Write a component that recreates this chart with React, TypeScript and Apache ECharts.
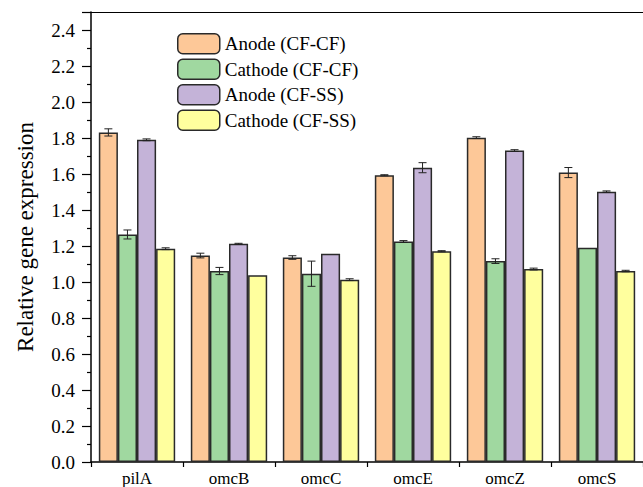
import React, { useEffect, useRef } from "react";
import * as echarts from "echarts";

const categories = ["pilA", "omcB", "omcC", "omcE", "omcZ", "omcS"];
const seriesNames = ["Anode (CF-CF)", "Cathode (CF-CF)", "Anode (CF-SS)", "Cathode (CF-SS)"];
const anodeCFCF = [1.831, 1.147, 1.136, 1.593, 1.802, 1.608];
const cathodeCFCF = [1.264, 1.061, 1.046, 1.225, 1.116, 1.19];
const anodeCFSS = [1.79, 1.212, 1.157, 1.635, 1.73, 1.502];
const cathodeCFSS = [1.185, 1.038, 1.013, 1.171, 1.072, 1.061];
const errAnodeCFCF = [0.02, 0.013, 0.01, 0.003, 0.005, 0.028];
const errCathodeCFCF = [0.025, 0.02, 0.07, 0.005, 0.013, 0];
const errAnodeCFSS = [0.005, 0.003, 0, 0.028, 0.005, 0.004];
const errCathodeCFSS = [0.005, 0, 0.005, 0.003, 0.005, 0.004];
const colors = ["#FDC898", "#A0D8A0", "#C4B3D8", "#FFFF9E"];

const FONT = "Liberation Serif";
const CAT_GAP = 0.17;

export default function App() {
  const ref = useRef<HTMLDivElement>(null);
  useEffect(() => {
    if (!ref.current) return;
    const chart = echarts.init(ref.current, null, { renderer: "svg" });
    const values = [anodeCFCF, cathodeCFCF, anodeCFSS, cathodeCFSS];
    const errs = [errAnodeCFCF, errCathodeCFCF, errAnodeCFSS, errCathodeCFSS];
    const errData: number[][] = [];
    values.forEach((arr, s) => {
      arr.forEach((v, i) => {
        errData.push([i, s, v, errs[s][i]]);
      });
    });
    const barSeries = values.map((arr, s) => ({
      name: seriesNames[s],
      type: "bar",
      data: arr,
      barGap: "0%",
      barCategoryGap: CAT_GAP * 100 + "%",
      itemStyle: { color: colors[s], borderColor: "#2a2a2a", borderWidth: 1.5 },
    }));
    chart.setOption({
      animation: false,
      textStyle: { fontFamily: FONT, color: "#000" },
      legend: {
        data: seriesNames,
        orient: "vertical",
        left: 177,
        top: 33,
        padding: 0,
        itemWidth: 42,
        itemHeight: 20,
        itemGap: 4,
        itemStyle: { borderColor: "#2a2a2a", borderWidth: 1.5 },
        textStyle: { fontFamily: FONT, fontSize: 19, color: "#000" },
      },
      grid: { left: 91, top: 12, right: -7, bottom: 25, containLabel: false },
      xAxis: [
        {
          type: "category",
          data: categories,
          axisLine: { lineStyle: { color: "#000", width: 1.5 } },
          axisTick: { show: true, length: 5, lineStyle: { color: "#000", width: 1.2 } },
          axisLabel: { fontFamily: FONT, fontSize: 17, color: "#000", margin: 8 },
        },
        {
          type: "category",
          data: categories,
          position: "top",
          axisLine: { lineStyle: { color: "#000", width: 1 } },
          axisTick: { show: false },
          axisLabel: { show: false },
        },
      ],
      yAxis: {
        type: "value",
        min: 0,
        max: 2.5,
        interval: 0.2,
        name: "Relative gene expression",
        nameLocation: "middle",
        nameGap: 54,
        nameTextStyle: { fontFamily: FONT, fontSize: 23, color: "#000" },
        axisLine: { show: true, lineStyle: { color: "#000", width: 1.5 } },
        axisTick: { show: true, length: 9, lineStyle: { color: "#000", width: 1.2 } },
        minorTick: { show: true, splitNumber: 2, length: 4, lineStyle: { color: "#000", width: 1.2 } },
        splitLine: { show: false },
        axisLabel: {
          fontFamily: FONT,
          fontSize: 19,
          color: "#000",
          margin: 16,
          formatter: (v: number) => (v > 2.45 ? "" : v.toFixed(1)),
        },
      },
      series: [
        ...barSeries,
        {
          type: "custom",
          name: "err",
          z: 10,
          data: errData,
          encode: { x: 0, y: 2 },
          renderItem: (params: any, api: any) => {
            const ci = api.value(0);
            const s = api.value(1);
            const v = api.value(2);
            const e = api.value(3);
            const band = api.size([1, 0])[0];
            const bw = (band * (1 - CAT_GAP)) / 4;
            const c = api.coord([ci, v]);
            const x = c[0] - 2 * bw + (s + 0.5) * bw;
            const yTop = api.coord([ci, v + e])[1];
            const yBot = api.coord([ci, v - e])[1];
            if (e <= 0) return null;
            const hw = 4;
            const st = { stroke: "#222", lineWidth: 1 };
            return {
              type: "group",
              children: [
                { type: "line", shape: { x1: x, y1: yTop, x2: x, y2: yBot }, style: st },
                { type: "line", shape: { x1: x - hw, y1: yTop, x2: x + hw, y2: yTop }, style: st },
                { type: "line", shape: { x1: x - hw, y1: yBot, x2: x + hw, y2: yBot }, style: st },
              ],
            };
          },
        },
      ],
    });
    return () => chart.dispose();
  }, []);
  return (
    <div
      ref={ref}
      style={{ position: "fixed", left: 0, top: 0, width: 643, height: 487, background: "#fff" }}
    />
  );
}
